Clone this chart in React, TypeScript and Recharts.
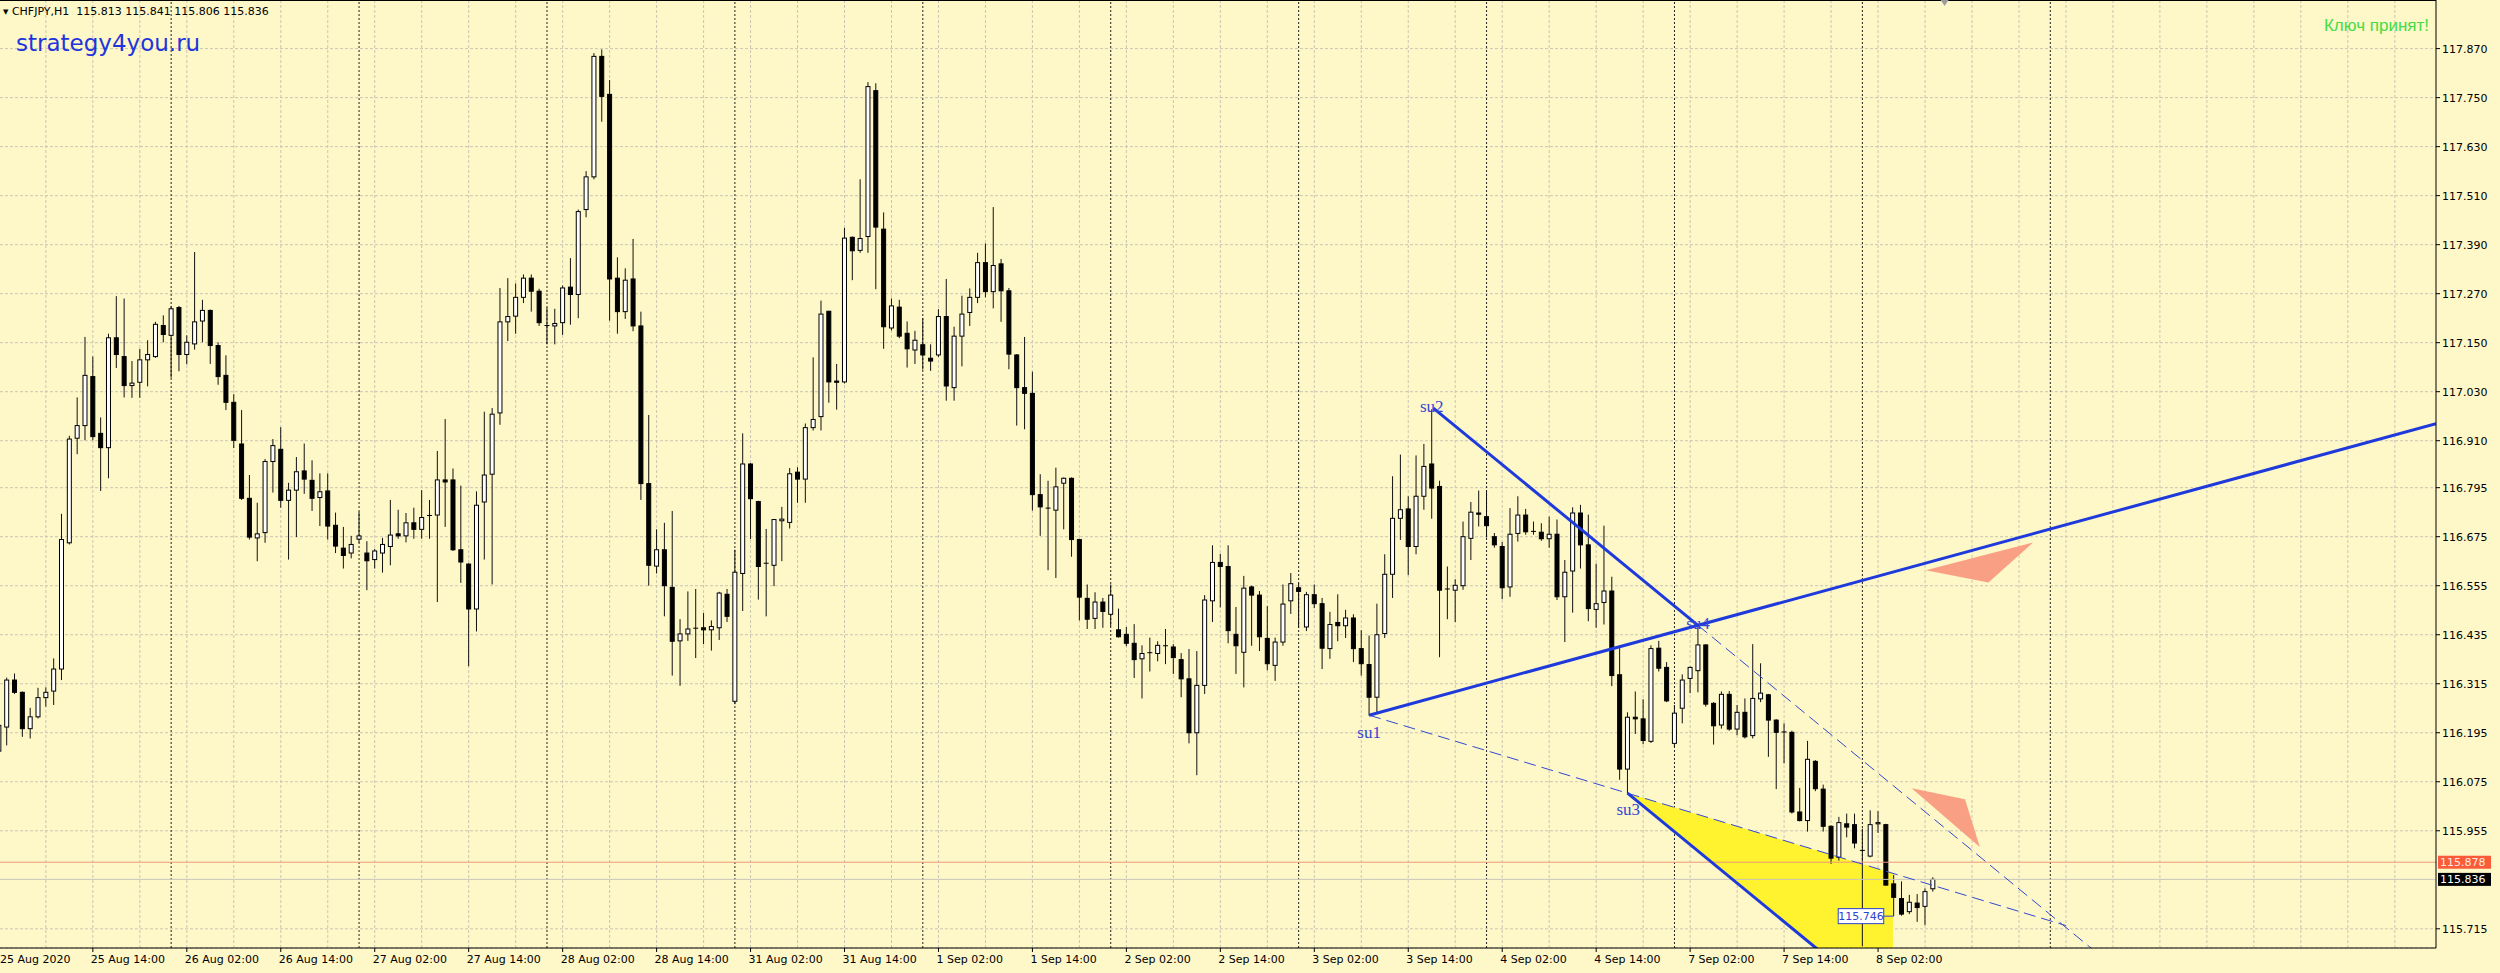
import React from "react";
import {
  ComposedChart,
  Bar,
  Area,
  XAxis,
  YAxis,
  CartesianGrid,
  ReferenceLine,
  ReferenceDot,
} from "recharts";

const W = 2500;
const H = 973;
const BG = "#FEF7C8";
const GRID = "#CBC6B3";
const BLUE = "#1E3ADB";
const DASH_BLUE = "#3249D2";
const FONT = "'DejaVu Sans', Verdana, sans-serif";

// CHFJPY H1, 25 Aug 2020 02:00 .. 8 Sep 2020 09:00 (one value per bar)
const opens = [
  116.150, 116.209, 116.324, 116.294, 116.205, 116.234, 116.281, 116.297, 116.351, 116.660,
  116.916, 116.947, 117.067, 116.928, 116.893, 117.162, 117.116, 117.045, 117.053, 117.108,
  117.116, 117.192, 117.168, 117.236, 117.121, 117.147, 117.203, 117.229, 117.143, 117.070,
  117.004, 116.902, 116.769, 116.672, 116.685, 116.859, 116.889, 116.764, 116.789, 116.836,
  116.813, 116.771, 116.787, 116.703, 116.647, 116.635, 116.669, 116.635, 116.619, 116.635,
  116.651, 116.682, 116.677, 116.709, 116.693, 116.725, 116.728, 116.814, 116.814, 116.643,
  116.608, 116.498, 116.760, 116.828, 116.978, 117.201, 117.215, 117.261, 117.308, 117.276,
  117.192, 117.191, 117.199, 117.286, 117.268, 117.476, 117.556, 117.851, 117.758, 117.308,
  117.226, 117.306, 117.191, 116.805, 116.603, 116.643, 116.551, 116.420, 116.437, 116.449,
  116.452, 116.447, 116.452, 116.534, 116.272, 116.585, 116.853, 116.761, 116.610, 116.605,
  116.714, 116.710, 116.833, 116.816, 116.942, 116.969, 117.227, 117.056, 117.054, 117.408,
  117.376, 117.410, 117.767, 117.428, 117.186, 117.237, 117.173, 117.132, 117.145, 117.112,
  117.120, 117.214, 117.040, 117.166, 117.224, 117.261, 117.346, 117.275, 117.343, 117.277,
  117.120, 117.040, 117.026, 116.778, 116.745, 116.740, 116.806, 116.818, 116.668, 116.524,
  116.475, 116.515, 116.485, 116.447, 116.436, 116.414, 116.376, 116.390, 116.389, 116.408,
  116.405, 116.374, 116.327, 116.195, 116.311, 116.518, 116.612, 116.602, 116.436, 116.392,
  116.552, 116.532, 116.426, 116.360, 116.417, 116.518, 116.550, 116.454, 116.533, 116.511,
  116.401, 116.465, 116.457, 116.476, 116.401, 116.362, 116.282, 116.438, 116.583, 116.720,
  116.743, 116.651, 116.774, 116.853, 116.798, 116.547, 116.544, 116.555, 116.671, 116.733,
  116.724, 116.675, 116.651, 116.552, 116.683, 116.728, 116.688, 116.686, 116.670, 116.681,
  116.528, 116.591, 116.733, 116.655, 116.497, 116.514, 116.542, 116.337, 116.106, 116.233,
  116.229, 116.174, 116.402, 116.355, 116.169, 116.255, 116.328, 116.347, 116.410, 116.267,
  116.214, 116.289, 116.204, 116.245, 116.188, 116.278, 116.288, 116.226, 116.197, 116.196,
  116.001, 115.980, 116.125, 116.057, 115.966, 115.890, 115.972, 115.970, 115.907, 115.893,
  115.972, 115.970, 115.825, 115.789, 115.757, 115.778, 115.770, 115.813,
];
const highs = [
  116.240, 116.330, 116.340, 116.296, 116.256, 116.305, 116.306, 116.377, 116.731, 116.922,
  117.016, 117.164, 117.116, 116.967, 117.172, 117.264, 117.258, 117.105, 117.135, 117.156,
  117.201, 117.217, 117.239, 117.240, 117.168, 117.372, 117.255, 117.231, 117.151, 117.119,
  117.024, 116.985, 116.826, 116.758, 116.865, 116.914, 116.943, 116.807, 116.870, 116.903,
  116.862, 116.830, 116.830, 116.734, 116.699, 116.677, 116.736, 116.664, 116.645, 116.672,
  116.765, 116.741, 116.733, 116.746, 116.789, 116.765, 116.885, 116.963, 116.842, 116.800,
  116.610, 116.786, 116.981, 116.990, 117.284, 117.308, 117.295, 117.317, 117.317, 117.282,
  117.236, 117.233, 117.290, 117.357, 117.476, 117.570, 117.859, 117.868, 117.793, 117.359,
  117.332, 117.404, 117.226, 116.973, 116.693, 116.709, 116.738, 116.473, 116.541, 116.547,
  116.488, 116.470, 116.540, 116.547, 116.643, 116.928, 116.855, 116.763, 116.694, 116.717,
  116.748, 116.843, 116.845, 116.952, 117.114, 117.253, 117.227, 117.098, 117.431, 117.410,
  117.550, 117.788, 117.785, 117.469, 117.258, 117.255, 117.202, 117.179, 117.210, 117.146,
  117.232, 117.306, 117.189, 117.265, 117.283, 117.370, 117.393, 117.482, 117.355, 117.284,
  117.122, 117.164, 117.079, 116.828, 116.812, 116.844, 116.820, 116.820, 116.670, 116.558,
  116.539, 116.525, 116.558, 116.499, 116.454, 116.461, 116.409, 116.428, 116.419, 116.449,
  116.412, 116.390, 116.400, 116.395, 116.532, 116.654, 116.633, 116.654, 116.503, 116.579,
  116.555, 116.542, 116.505, 116.428, 116.558, 116.586, 116.561, 116.540, 116.558, 116.525,
  116.491, 116.534, 116.496, 116.485, 116.446, 116.433, 116.511, 116.632, 116.823, 116.876,
  116.774, 116.874, 116.902, 116.987, 116.812, 116.602, 116.571, 116.712, 116.760, 116.788,
  116.788, 116.684, 116.662, 116.745, 116.774, 116.743, 116.712, 116.708, 116.724, 116.717,
  116.618, 116.747, 116.753, 116.729, 116.609, 116.702, 116.577, 116.402, 116.245, 116.296,
  116.277, 116.409, 116.420, 116.368, 116.263, 116.338, 116.357, 116.458, 116.412, 116.270,
  116.296, 116.297, 116.263, 116.279, 116.412, 116.365, 116.290, 116.228, 116.218, 116.200,
  116.060, 116.175, 116.128, 116.068, 115.968, 115.989, 115.997, 115.997, 115.960, 116.005,
  116.003, 115.972, 115.847, 115.831, 115.798, 115.800, 115.814, 115.841,
];
const lows = [
  116.120, 116.164, 116.290, 116.185, 116.181, 116.230, 116.259, 116.263, 116.324, 116.656,
  116.877, 116.911, 116.911, 116.787, 116.818, 117.088, 117.016, 117.015, 117.015, 117.043,
  117.113, 117.151, 117.064, 117.080, 117.097, 117.133, 117.151, 117.098, 117.047, 116.985,
  116.892, 116.765, 116.668, 116.615, 116.660, 116.783, 116.746, 116.619, 116.674, 116.780,
  116.738, 116.701, 116.668, 116.635, 116.597, 116.622, 116.660, 116.544, 116.597, 116.587,
  116.605, 116.670, 116.661, 116.670, 116.670, 116.670, 116.515, 116.699, 116.640, 116.562,
  116.358, 116.443, 116.619, 116.558, 116.949, 117.154, 117.172, 117.247, 117.226, 117.191,
  117.146, 117.146, 117.169, 117.194, 117.210, 117.457, 117.550, 117.691, 117.204, 117.172,
  117.208, 117.178, 116.765, 116.555, 116.585, 116.480, 116.335, 116.310, 116.420, 116.378,
  116.412, 116.396, 116.422, 116.466, 116.265, 116.493, 116.669, 116.521, 116.480, 116.554,
  116.615, 116.695, 116.758, 116.758, 116.935, 116.935, 117.003, 116.986, 117.050, 117.303,
  117.370, 117.370, 117.281, 117.135, 117.180, 117.161, 117.089, 117.098, 117.084, 117.081,
  117.115, 117.008, 117.008, 117.092, 117.191, 117.247, 117.261, 117.234, 117.201, 117.085,
  116.947, 116.938, 116.739, 116.677, 116.593, 116.574, 116.693, 116.626, 116.470, 116.449,
  116.449, 116.452, 116.455, 116.428, 116.407, 116.329, 116.279, 116.345, 116.370, 116.363,
  116.339, 116.282, 116.169, 116.091, 116.290, 116.466, 116.502, 116.414, 116.339, 116.306,
  116.408, 116.395, 116.348, 116.322, 116.408, 116.486, 116.452, 116.444, 116.500, 116.351,
  116.376, 116.419, 116.427, 116.368, 116.335, 116.237, 116.241, 116.427, 116.525, 116.667,
  116.581, 116.632, 116.741, 116.719, 116.380, 116.473, 116.466, 116.545, 116.618, 116.700,
  116.673, 116.648, 116.522, 116.528, 116.663, 116.680, 116.680, 116.665, 116.648, 116.520,
  116.417, 116.489, 116.597, 116.468, 116.452, 116.460, 116.309, 116.080, 116.047, 116.192,
  116.167, 116.170, 116.345, 116.270, 116.160, 116.218, 116.292, 116.294, 116.259, 116.166,
  116.205, 116.200, 116.189, 116.181, 116.181, 116.270, 116.136, 116.057, 116.120, 115.997,
  115.978, 115.953, 116.052, 115.953, 115.874, 115.882, 115.939, 115.912, 115.672, 115.890,
  115.950, 115.821, 115.746, 115.747, 115.751, 115.732, 115.724, 115.806,
];
const closes = [
  116.213, 116.324, 116.294, 116.205, 116.234, 116.281, 116.294, 116.351, 116.668, 116.914,
  116.947, 117.070, 116.920, 116.893, 117.162, 117.121, 117.045, 117.051, 117.108, 117.121,
  117.195, 117.170, 117.233, 117.121, 117.151, 117.201, 117.229, 117.143, 117.067, 117.004,
  116.911, 116.769, 116.674, 116.682, 116.859, 116.898, 116.764, 116.789, 116.834, 116.816,
  116.769, 116.785, 116.701, 116.652, 116.629, 116.656, 116.677, 116.616, 116.640, 116.656,
  116.679, 116.677, 116.709, 116.693, 116.722, 116.727, 116.814, 116.809, 116.643, 116.613,
  116.498, 116.752, 116.826, 116.975, 117.201, 117.214, 117.261, 117.308, 117.276, 117.199,
  117.190, 117.197, 117.284, 117.268, 117.471, 117.556, 117.851, 117.753, 117.306, 117.226,
  117.303, 117.191, 116.805, 116.605, 116.643, 116.555, 116.419, 116.437, 116.449, 116.451,
  116.447, 116.455, 116.537, 116.480, 116.588, 116.853, 116.768, 116.602, 116.608, 116.717,
  116.718, 116.829, 116.816, 116.942, 116.962, 117.220, 117.054, 117.053, 117.406, 117.375,
  117.405, 117.777, 117.433, 117.189, 117.240, 117.166, 117.135, 117.156, 117.120, 117.105,
  117.214, 117.044, 117.166, 117.220, 117.261, 117.346, 117.275, 117.339, 117.277, 117.122,
  117.040, 117.026, 116.778, 116.748, 116.743, 116.797, 116.818, 116.668, 116.527, 116.473,
  116.515, 116.492, 116.532, 116.430, 116.414, 116.374, 116.389, 116.391, 116.409, 116.406,
  116.379, 116.327, 116.195, 116.311, 116.520, 116.612, 116.602, 116.445, 116.408, 116.549,
  116.532, 116.430, 116.364, 116.417, 116.510, 116.560, 116.541, 116.533, 116.511, 116.402,
  116.460, 116.457, 116.476, 116.401, 116.364, 116.282, 116.435, 116.583, 116.720, 116.741,
  116.651, 116.774, 116.847, 116.794, 116.544, 116.545, 116.556, 116.675, 116.735, 116.730,
  116.702, 116.655, 116.550, 116.681, 116.728, 116.687, 116.686, 116.670, 116.681, 116.528,
  116.588, 116.733, 116.655, 116.499, 116.511, 116.542, 116.335, 116.106, 116.233, 116.229,
  116.176, 116.401, 116.353, 116.273, 116.243, 116.324, 116.355, 116.410, 116.265, 116.212,
  116.289, 116.204, 116.245, 116.185, 116.279, 116.292, 116.226, 116.196, 116.195, 116.001,
  115.980, 116.130, 116.058, 115.966, 115.888, 115.975, 115.964, 115.925, 115.905, 115.970,
  115.975, 115.822, 115.792, 115.751, 115.780, 115.767, 115.806, 115.836,
];

const dateTicks = [0, 12, 24, 36, 48, 60, 72, 84, 96, 108, 120, 132, 144, 156, 168, 180, 192, 204, 216, 228, 240];
const dateLabels = [
  "25 Aug 2020", "25 Aug 14:00", "26 Aug 02:00", "26 Aug 14:00", "27 Aug 02:00", "27 Aug 14:00",
  "28 Aug 02:00", "28 Aug 14:00", "31 Aug 02:00", "31 Aug 14:00", "1 Sep 02:00", "1 Sep 14:00",
  "2 Sep 02:00", "2 Sep 14:00", "3 Sep 02:00", "3 Sep 14:00", "4 Sep 02:00", "4 Sep 14:00",
  "7 Sep 02:00", "7 Sep 14:00", "8 Sep 02:00",
];
const priceTicks = [
  117.87, 117.75, 117.63, 117.51, 117.39, 117.27, 117.15, 117.03, 116.91, 116.795,
  116.675, 116.555, 116.435, 116.315, 116.195, 116.075, 115.955, 115.715,
];
const daySeparators = [22, 46, 70, 94, 118, 142, 166, 190, 214, 238, 262];
const gridBars = Array.from({ length: 52 }, (_, k) => k * 6);

// anchor points of the drawn objects (bar index, price)
const su1 = { i: 175, p: 116.238 };
const su2 = { i: 183.2, p: 116.99 };
const su3 = { i: 208, p: 116.047 };
const su4 = { i: 217, p: 116.458 };
const suLabels = [
  { t: "su1", i: 175, p: 116.181 },
  { t: "su2", i: 183, p: 116.981 },
  { t: "su3", i: 208.1, p: 115.994 },
  { t: "su4", i: 217, p: 116.449 },
];
const lowerDashEnd = 264;
const yellowRightBar = 241.9;
const arrowUp = [
  { i: 246.1, p: 116.593 },
  { i: 254.1, p: 116.563 },
  { i: 259.8, p: 116.661 },
];
const arrowDown = [
  { i: 244.3, p: 116.059 },
  { i: 251.1, p: 116.032 },
  { i: 253.0, p: 115.915 },
];
const redLevel = 115.878;
const bidLevel = 115.836;
const lowMark = { i: 242, p: 115.746 };

const X_DOMAIN: [number, number] = [0.1405, 311.26];
const Y_DOMAIN: [number, number] = [115.668, 117.989];

const candles = opens.map((o, k) => ({ i: k, o, h: highs[k], l: lows[k], c: closes[k] }));

type Pt = { i: number; p: number };
const lineAt = (a: Pt, b: Pt, i: number) => a.p + ((b.p - a.p) * (i - a.i)) / (b.i - a.i);
const slope24 = (su4.p - su2.p) / (su4.i - su2.i);

const yellowData = [
  { i: su3.i, r: [su3.p, su3.p] },
  {
    i: yellowRightBar,
    r: [su3.p + slope24 * (yellowRightBar - su3.i), lineAt(su1, su3, yellowRightBar)],
  },
];

function triangleRange(v: Pt[]) {
  const s = [...v].sort((a, b) => a.i - b.i);
  const e = lineAt(s[0], s[2], s[1].i);
  return [
    { i: s[0].i, r: [s[0].p, s[0].p] },
    { i: s[1].i, r: [Math.min(e, s[1].p), Math.max(e, s[1].p)] },
    { i: s[2].i, r: [s[2].p, s[2].p] },
  ];
}

function Candle(props: any) {
  const { x, y, width, height, payload } = props;
  if (x == null || !payload) return null;
  const top = Math.min(y, y + height);
  const span = Math.abs(height);
  const range = payload.h - payload.l || 1e-9;
  const py = (v: number) => top + ((payload.h - v) / range) * span;
  const cx = x + width / 2;
  const up = payload.c >= payload.o;
  const yo = py(payload.o);
  const yc = py(payload.c);
  const bt = Math.min(yo, yc);
  const bh = Math.abs(yc - yo);
  return (
    <g>
      <line x1={cx} x2={cx} y1={top} y2={top + span} stroke="#111" strokeWidth={1} />
      {bh < 1.2 ? (
        <line x1={cx - 2.5} x2={cx + 2.5} y1={bt} y2={bt} stroke="#000" strokeWidth={1} />
      ) : (
        <rect x={cx - 2} y={bt} width={4} height={bh} fill={up ? "#fff" : "#000"} stroke="#000" strokeWidth={1} />
      )}
    </g>
  );
}

function DateTick(props: any) {
  const { x, y, payload } = props;
  const k = dateTicks.indexOf(payload.value);
  return (
    <text x={Math.max(x - 2, 0)} y={y + 11} fontSize={11} fontFamily={FONT} fill="#000">
      {dateLabels[k]}
    </text>
  );
}

function PriceTick(props: any) {
  const { x, y, payload } = props;
  return (
    <text x={x} y={y + 4} fontSize={11} fontFamily={FONT} fill="#000">
      {Number(payload.value).toFixed(3)}
    </text>
  );
}

function PriceTag({ viewBox, value, fill, color }: any) {
  if (!viewBox) return null;
  const x = viewBox.x + viewBox.width + 2;
  const y = viewBox.y;
  return (
    <g>
      <rect x={x} y={y - 6.5} width={53} height={13} fill={fill} />
      <text x={x + 2} y={y + 4} fontSize={11} fontFamily={FONT} fill={color}>
        {value}
      </text>
    </g>
  );
}

export default function App() {
  return (
    <div style={{ position: "relative", width: W, height: H, background: BG, overflow: "hidden" }}>
      <style>{"body{margin:0}"}</style>
      <ComposedChart width={W} height={H} data={candles} margin={{ top: 0, right: 0, bottom: 0, left: 0 }}>
        <CartesianGrid vertical={false} stroke={GRID} strokeDasharray="3 2" />
        <XAxis
          dataKey="i"
          type="number"
          domain={X_DOMAIN}
          allowDataOverflow
          ticks={dateTicks}
          interval={0}
          height={25}
          tickSize={4}
          tickMargin={0}
          axisLine={{ stroke: "#000" }}
          tickLine={{ stroke: "#000" }}
          tick={(p: any) => <DateTick {...p} />}
        />
        <YAxis
          orientation="right"
          type="number"
          domain={Y_DOMAIN}
          allowDataOverflow
          ticks={priceTicks}
          interval={0}
          width={64}
          tickSize={4}
          tickMargin={2}
          axisLine={{ stroke: "#000" }}
          tickLine={{ stroke: "#000" }}
          tick={(p: any) => <PriceTick {...p} />}
        />
        {gridBars.map((k) => (
          <ReferenceLine key={"g" + k} x={k} stroke={GRID} strokeDasharray="3 2" zIndex={-90} />
        ))}
        {daySeparators.map((k) => (
          <ReferenceLine key={"d" + k} x={k} stroke="#222" strokeDasharray="2 2" zIndex={-80} />
        ))}
        <ReferenceLine y={Y_DOMAIN[1]} stroke="#000" strokeWidth={2} />
        <Area
          data={yellowData}
          dataKey="r"
          type="linear"
          fill="#FFF22E"
          fillOpacity={1}
          stroke="none"
          dot={false}
          activeDot={false}
          isAnimationActive={false}
        />
        <Bar
          dataKey={(d: any) => [d.l, d.h]}
          barSize={5}
          shape={(p: any) => <Candle {...p} />}
          isAnimationActive={false}
        />
        <ReferenceLine y={redLevel} stroke="#EC9A78" zIndex={350} label={<PriceTag value={redLevel.toFixed(3)} fill="#FA5B38" color="#FFE8E0" />} />
        <ReferenceLine y={bidLevel} stroke="#C9C5BC" zIndex={350} label={<PriceTag value={bidLevel.toFixed(3)} fill="#000" color="#fff" />} />
        <Area data={triangleRange(arrowUp)} dataKey="r" type="linear" fill="#F99F83" fillOpacity={1} stroke="none" dot={false} activeDot={false} isAnimationActive={false} />
        <Area data={triangleRange(arrowDown)} dataKey="r" type="linear" fill="#F99F83" fillOpacity={1} stroke="none" dot={false} activeDot={false} isAnimationActive={false} />
        <ReferenceLine
          segment={[{ x: su1.i, y: su1.p }, { x: lowerDashEnd, y: lineAt(su1, su3, lowerDashEnd) }]}
          stroke={DASH_BLUE}
          strokeDasharray="12 6"
          ifOverflow="hidden"
          zIndex={450}
        />
        <ReferenceLine
          segment={[{ x: su4.i, y: su4.p }, { x: su4.i + 80, y: lineAt(su2, su4, su4.i + 80) }]}
          stroke={DASH_BLUE}
          strokeDasharray="12 6"
          ifOverflow="hidden"
          zIndex={450}
        />
        <ReferenceLine
          segment={[{ x: su1.i, y: su1.p }, { x: X_DOMAIN[1], y: lineAt(su1, su4, X_DOMAIN[1]) }]}
          stroke={BLUE}
          strokeWidth={3}
          ifOverflow="hidden"
          zIndex={460}
        />
        <ReferenceLine
          segment={[{ x: su2.i, y: su2.p }, { x: su4.i, y: su4.p }]}
          stroke={BLUE}
          strokeWidth={3}
          ifOverflow="hidden"
          zIndex={460}
        />
        <ReferenceLine
          segment={[{ x: su3.i, y: su3.p }, { x: su3.i + 60, y: su3.p + slope24 * 60 }]}
          stroke={BLUE}
          strokeWidth={3}
          ifOverflow="hidden"
          zIndex={460}
        />
        {suLabels.map((s) => (
          <ReferenceDot
            key={s.t}
            x={s.i}
            y={s.p}
            r={0}
            zIndex={470}
            shape={(p: any) => (
              <text x={p.cx} y={p.cy} textAnchor="middle" fontSize={17} fontFamily="'Liberation Serif', 'Times New Roman', serif" fill="#3447D6">
                {s.t}
              </text>
            )}
          />
        ))}
        <ReferenceDot
          x={lowMark.i}
          y={lowMark.p}
          r={0}
          zIndex={480}
          shape={(p: any) => (
            <g>
              <line x1={p.cx - 10} x2={p.cx} y1={p.cy} y2={p.cy} stroke="#2E44D0" />
              <rect x={p.cx - 55.5} y={p.cy - 7.5} width={45.5} height={15} fill="#fff" stroke="#2E44D0" />
              <text x={p.cx - 32.7} y={p.cy + 4} textAnchor="middle" fontSize={11} fontFamily={FONT} fill="#2E44D0">
                {lowMark.p.toFixed(3)}
              </text>
            </g>
          )}
        />
        <ReferenceDot
          x={248.5}
          y={Y_DOMAIN[1]}
          r={0}
          zIndex={480}
          shape={(p: any) => (
            <polygon points={`${p.cx - 4},${p.cy} ${p.cx + 4},${p.cy} ${p.cx},${p.cy + 6}`} fill="#9C9C9C" />
          )}
        />
      </ComposedChart>
      <div style={{ position: "absolute", left: 3, top: 5, fontFamily: FONT, fontSize: 11, lineHeight: "13px", color: "#000", whiteSpace: "pre" }}>
        <span style={{ fontSize: 7, verticalAlign: "1px" }}>▼</span>
        {" CHFJPY,H1  115.813 115.841 115.806 115.836"}
      </div>
      <div style={{ position: "absolute", left: 16, top: 30, fontFamily: FONT, fontSize: 23, lineHeight: "26px", color: "#2134DD", whiteSpace: "pre" }}>
        strategy4you.ru
      </div>
      <div style={{ position: "absolute", right: 71, top: 16, fontFamily: "'Liberation Sans', Arial, sans-serif", fontSize: 17, lineHeight: "20px", color: "#43DD43", whiteSpace: "pre" }}>
        Ключ принят!
      </div>
    </div>
  );
}
